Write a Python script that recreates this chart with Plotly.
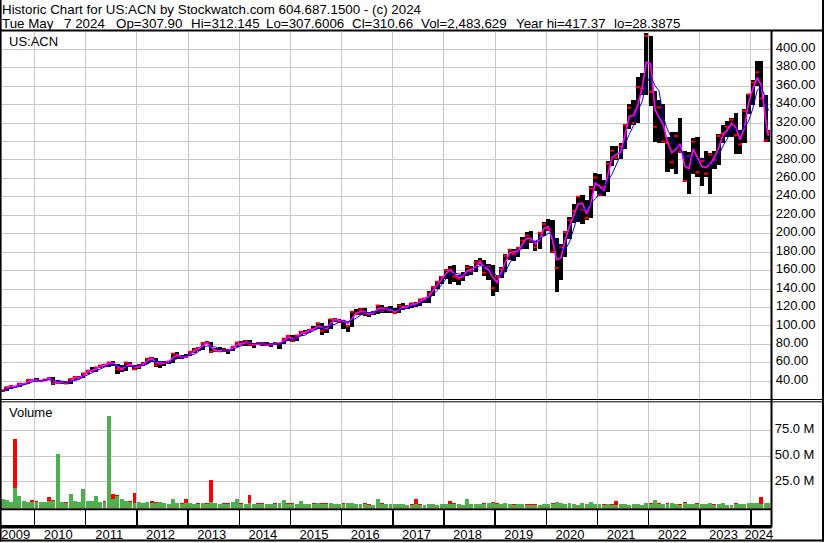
import pandas as pd
import plotly.graph_objects as go

W, H = 830, 543

# ---------------- data: monthly bars, May 2009 .. May 2024 ----------------
close = [
    29.9, 33.5, 35.0, 34.0, 37.3, 37.0, 41.5, 41.5,
    41.0, 40.0, 42.0, 43.7, 37.5, 38.6, 39.6, 37.5, 42.5, 44.7, 43.5, 48.5,
    51.5, 51.5, 55.0, 57.0, 58.0, 60.4, 59.0, 53.0, 52.7, 60.3, 57.5, 53.2,
    57.3, 59.5, 64.5, 64.9, 57.0, 60.1, 60.2, 61.5, 70.0, 67.4, 66.0, 66.5,
    72.0, 74.0, 76.0, 81.4, 82.0, 72.0, 73.8, 72.5, 73.6, 73.5, 77.5, 82.2,
    80.0, 83.5, 79.7, 80.0, 81.4, 80.8, 79.3, 80.4, 81.3, 81.1, 86.3, 89.3,
    84.0, 89.6, 93.7, 92.6, 95.8, 96.8, 103.0, 94.7, 98.3, 107.2, 107.0, 104.5,
    105.6, 100.0, 115.4, 113.0, 118.0, 113.3, 112.8, 114.9, 122.2, 116.3, 119.0, 117.1,
    113.9, 122.0, 119.9, 121.3, 124.5, 123.7, 128.8, 129.7, 135.1, 142.4, 148.0, 153.1,
    160.7, 161.0, 153.5, 151.2, 155.7, 163.6, 159.3, 169.0, 170.2, 157.6, 164.5, 141.0,
    153.5, 161.7, 176.0, 182.6, 178.0, 184.8, 192.6, 198.0, 192.3, 185.4, 201.0, 210.6,
    205.0, 180.6, 163.0, 185.0, 201.6, 214.7, 224.8, 240.0, 226.0, 217.0, 249.0, 261.0,
    242.0, 251.0, 276.0, 290.0, 282.0, 294.8, 317.7, 336.6, 320.0, 358.8, 357.4, 414.5,
    353.6, 316.0, 337.0, 300.0, 298.5, 277.6, 306.0, 289.0, 257.3, 284.0, 300.0, 266.8,
    279.0, 265.0, 285.8, 280.0, 306.0, 308.6, 316.0, 323.6, 307.0, 297.0, 333.0, 351.0,
    364.0, 375.0, 346.6, 301.0, 310.7,
]
high = [
    30.6, 34.0, 35.6, 35.2, 37.8, 38.6, 42.0, 42.5,
    43.4, 41.9, 42.9, 44.7, 44.2, 41.2, 40.5, 40.2, 42.9, 45.2, 45.3, 48.9,
    52.0, 55.2, 55.3, 58.2, 59.0, 61.2, 62.0, 59.3, 57.3, 61.4, 60.7, 58.2,
    58.3, 60.8, 65.0, 65.9, 65.3, 61.0, 61.6, 62.3, 71.0, 71.4, 68.4, 69.3,
    72.6, 75.9, 77.0, 81.6, 83.7, 83.0, 76.2, 77.1, 76.6, 74.5, 78.2, 83.0,
    84.2, 84.8, 85.0, 80.6, 82.2, 82.7, 82.3, 81.3, 83.0, 82.0, 87.2, 89.6,
    90.0, 90.6, 95.0, 95.5, 97.2, 100.4, 103.6, 103.2, 99.8, 107.8, 109.1, 108.1,
    105.7, 101.4, 115.6, 118.3, 119.9, 119.9, 115.3, 116.6, 123.0, 122.5, 120.4, 121.3,
    119.0, 123.5, 124.6, 122.4, 125.2, 126.4, 129.4, 130.3, 137.6, 143.4, 149.0, 154.1,
    162.3, 164.8, 165.6, 155.2, 158.3, 165.6, 165.4, 171.2, 173.7, 171.0, 167.2, 166.0,
    154.0, 164.3, 177.6, 183.5, 184.0, 185.8, 196.0, 201.5, 202.8, 192.0, 202.0, 212.6,
    216.4, 215.0, 195.7, 189.0, 202.7, 218.5, 232.0, 240.5, 242.3, 237.0, 252.0, 265.5,
    265.0, 258.5, 278.7, 295.4, 295.0, 298.0, 318.8, 340.6, 345.4, 370.0, 374.5, 417.4,
    414.0, 355.0, 345.0, 341.0, 305.0, 310.0, 310.5, 325.4, 290.0, 288.5, 304.0, 305.0,
    282.0, 289.5, 288.0, 290.0, 308.0, 318.0, 322.0, 325.0, 330.5, 312.0, 335.0, 352.0,
    366.5, 387.5, 387.5, 350.0, 313.0,
]
low = [
    28.4, 30.0, 31.8, 33.3, 33.8, 36.5, 36.7, 40.0,
    40.0, 39.5, 40.0, 41.4, 36.0, 37.4, 37.1, 37.0, 37.5, 41.4, 42.4, 43.4,
    47.9, 50.5, 50.5, 54.5, 55.9, 55.5, 57.0, 48.0, 50.0, 51.0, 55.0, 52.0,
    53.0, 57.0, 59.2, 61.3, 56.0, 54.6, 56.5, 58.5, 60.3, 64.6, 63.8, 65.3,
    67.0, 71.0, 73.4, 74.0, 80.0, 71.0, 71.6, 72.2, 71.8, 69.5, 73.0, 77.0,
    79.3, 78.3, 78.5, 76.3, 79.2, 78.0, 78.3, 77.0, 79.0, 75.5, 80.5, 84.0,
    82.5, 84.0, 89.0, 91.2, 92.0, 96.0, 96.6, 90.0, 92.4, 96.4, 104.2, 103.0,
    97.0, 93.3, 99.0, 112.0, 111.4, 111.0, 110.2, 112.0, 113.0, 114.2, 114.0, 114.3,
    113.5, 114.0, 117.0, 118.5, 119.5, 121.0, 122.2, 125.0, 125.0, 133.0, 140.2, 146.0,
    151.0, 145.0, 148.0, 144.2, 149.0, 154.0, 155.0, 158.0, 166.0, 154.0, 150.0, 132.6,
    137.2, 152.0, 158.0, 172.0, 170.5, 175.0, 183.0, 184.0, 190.0, 181.0, 184.0, 198.0,
    203.0, 179.0, 137.2, 150.0, 175.0, 194.0, 212.0, 213.0, 211.0, 215.0, 217.0, 246.0,
    240.5, 241.0, 245.0, 274.0, 280.0, 281.0, 292.0, 314.0, 318.0, 320.0, 350.0, 350.0,
    338.0, 300.0, 298.0, 298.0, 267.0, 270.0, 265.0, 288.0, 257.0, 243.0, 265.0, 262.0,
    252.0, 262.0, 242.8, 270.0, 275.0, 298.0, 305.0, 305.0, 286.0, 287.0, 298.0, 330.0,
    340.0, 360.0, 337.0, 300.0, 300.0,
]
# peak daily volume (millions) on up days / down days within each month
vol_up = [
    9.0, 7.5, 6.0, 19.0, 11.0, 6.5, 6.0, 5.5,
    6.0, 5.5, 6.0, 7.0, 6.5, 52.0, 5.5, 5.0, 13.0, 7.0, 6.0, 18.0,
    6.5, 7.0, 11.5, 6.0, 6.0, 89.0, 9.0, 11.0, 9.0, 7.0, 6.0, 5.0,
    5.5, 5.0, 6.0, 5.0, 4.5, 5.5, 4.5, 4.0, 9.0, 5.0, 4.0, 4.5,
    4.5, 4.0, 4.0, 5.0, 4.0, 6.0, 4.5, 3.5, 4.0, 4.0, 5.5, 8.6,
    4.0, 4.0, 5.0, 3.5, 3.5, 4.0, 3.5, 3.5, 4.0, 5.0, 8.0, 4.0,
    4.0, 3.5, 6.5, 3.5, 3.5, 4.0, 4.5, 3.5, 4.0, 4.5, 3.5, 3.5,
    4.0, 4.5, 5.0, 3.5, 3.5, 4.0, 3.0, 3.0, 8.7, 4.0, 3.5, 3.5,
    3.5, 3.5, 4.0, 3.0, 3.0, 4.0, 3.0, 3.0, 4.0, 3.5, 3.0, 3.5,
    3.5, 4.0, 4.0, 3.5, 3.0, 8.4, 3.5, 3.5, 4.0, 4.0, 4.5, 5.0,
    4.0, 3.5, 4.5, 3.5, 3.0, 4.0, 3.5, 3.0, 3.0, 3.0, 3.0, 3.5,
    3.5, 4.0, 6.0, 4.5, 3.5, 5.0, 3.5, 3.0, 4.5, 3.5, 5.5, 3.5,
    3.5, 3.0, 4.0, 3.0, 3.0, 3.5, 3.5, 3.0, 4.0, 3.5, 3.0, 4.5,
    4.0, 7.5, 4.0, 3.5, 4.0, 5.0, 3.5, 3.0, 4.5, 4.0, 3.5, 3.5,
    3.5, 3.5, 4.5, 3.0, 4.0, 4.5, 3.0, 3.0, 4.0, 3.5, 4.0, 4.5,
    4.5, 5.0, 4.0, 5.0, 4.5,
]
vol_dn = [
    7.0, 6.5, 5.5, 67.0, 6.0, 7.0, 5.0, 7.5,
    7.0, 6.0, 5.0, 10.0, 8.0, 8.0, 6.0, 6.0, 5.5, 6.0, 5.5, 6.5,
    5.5, 6.0, 7.0, 5.5, 6.5, 13.0, 13.0, 12.0, 9.0, 6.0, 7.0, 14.5,
    6.0, 5.0, 5.0, 6.5, 6.0, 5.5, 5.0, 4.0, 5.5, 5.0, 4.5, 8.6,
    4.0, 4.0, 5.0, 4.5, 4.5, 27.0, 5.0, 4.0, 4.5, 5.0, 3.5, 4.0,
    4.5, 4.0, 12.5, 4.0, 4.5, 5.0, 3.5, 3.0, 4.5, 4.0, 3.5, 4.5,
    4.5, 3.5, 4.0, 3.5, 3.5, 4.5, 4.0, 4.5, 4.5, 3.5, 3.0, 4.0,
    4.5, 5.0, 3.5, 4.0, 3.5, 4.5, 3.5, 3.0, 4.0, 4.5, 4.0, 3.5,
    4.0, 3.0, 4.0, 3.0, 3.5, 8.4, 3.5, 3.0, 3.5, 3.0, 3.0, 3.5,
    3.5, 7.0, 4.5, 4.0, 3.0, 4.0, 3.5, 3.0, 3.5, 4.5, 4.0, 6.0,
    4.5, 3.0, 3.5, 3.0, 3.5, 3.5, 3.0, 3.5, 3.5, 3.5, 3.0, 3.0,
    4.0, 5.0, 6.0, 4.0, 3.5, 4.0, 3.0, 3.0, 5.0, 3.5, 4.0, 3.5,
    4.0, 3.5, 3.5, 3.5, 6.5, 3.0, 3.0, 3.0, 4.0, 3.0, 3.0, 3.5,
    4.5, 4.0, 4.5, 4.0, 4.5, 4.0, 3.5, 3.5, 5.5, 4.0, 3.5, 5.0,
    4.0, 3.5, 5.0, 3.5, 3.5, 3.5, 3.0, 3.0, 5.0, 3.5, 3.5, 4.0,
    4.0, 4.5, 10.0, 5.0, 3.5,
]
years = list(range(2009, 2025))
price_ticks = list(range(40, 401, 20))
vol_ticks = [25, 50, 75]
title1 = "Historic Chart for US:ACN by Stockwatch.com 604.687.1500 - (c) 2024"
# second header line, field by field (the source separates them with runs of spaces)
title2_fields = ["Tue May", "7 2024", "Op=307.90", "Hi=312.145", "Lo=307.6006",
                 "Cl=310.66", "Vol=2,483,629", "Year hi=417.37", "lo=28.3875"]
symbol = "US:ACN"

n = len(close)
assert n == len(high) == len(low) == len(vol_up) == len(vol_dn) == 181, (
    n, len(high), len(low), len(vol_up), len(vol_dn))

dates = list(pd.date_range('2009-05-01', periods=n, freq='MS') + pd.Timedelta(days=14))
dates[0] = pd.Timestamp('2009-05-20')
dates[-1] = pd.Timestamp('2024-05-04')

s_close = pd.Series(close)
ma_fast = s_close.rolling(2, min_periods=1).mean()
ma_slow = s_close.rolling(4, min_periods=1).mean()

# ---------------- layout calibration ----------------
X2010, X2024 = 34.7, 753.7
T2010, T2024 = pd.Timestamp('2010-01-01'), pd.Timestamp('2024-01-01')
ppd = (X2024 - X2010) / (T2024 - T2010).days


def xdate(px):
    return T2010 + pd.Timedelta(days=(px - X2010) / ppd)


XL, XR = 1.0, 773.5
xr = [xdate(XL), xdate(XR)]
xdom = [XL / W, XR / W]


def py(y):
    return 1 - y / H


def fx(x):
    return x / W


year_starts = [pd.Timestamp(f'{y}-01-01') for y in years[1:]]
label_pos = []
for y in years:
    s = max(pd.Timestamp(f'{y}-01-01'), xr[0])
    e = min(pd.Timestamp(f'{y + 1}-01-01'), xr[1])
    label_pos.append(s + (e - s) / 2 - pd.Timedelta(days=2.0 / ppd))

GRID = '#c8c8c8'
FAM = 'Arial, Liberation Sans, sans-serif'
FONT = dict(family=FAM, size=13, color='#000000')
HFONT = dict(family=FAM, size=13.35, color='#000000')
DAY = 86400000

fig = go.Figure()

# price bars (low..high)
fig.add_trace(go.Bar(x=dates, y=[h - l for h, l in zip(high, low)], base=low,
                     width=30.5 * DAY, marker=dict(color='#000000', line=dict(width=0)),
                     xaxis='x', yaxis='y', hoverinfo='skip'))
fig.add_trace(go.Scatter(x=dates, y=close, mode='markers',
                         marker=dict(symbol='line-ew', size=3,
                                     line=dict(color='#ff0000', width=2)),
                         xaxis='x', yaxis='y', hoverinfo='skip'))
fig.add_trace(go.Scatter(x=dates, y=ma_fast, mode='lines',
                         line=dict(color='#ff00ff', width=1.7),
                         xaxis='x', yaxis='y', hoverinfo='skip'))
fig.add_trace(go.Scatter(x=dates, y=ma_slow, mode='lines',
                         line=dict(color='#0000ff', width=1.0),
                         xaxis='x', yaxis='y', hoverinfo='skip'))

# volume
fig.add_trace(go.Bar(x=dates, y=vol_dn, width=28 * DAY,
                     marker=dict(color='#ff0000', line=dict(width=0)),
                     xaxis='x2', yaxis='y2', hoverinfo='skip'))
fig.add_trace(go.Bar(x=dates, y=vol_up, width=28 * DAY,
                     marker=dict(color='#4cb04c', line=dict(width=0)),
                     xaxis='x2', yaxis='y2', hoverinfo='skip'))

# empty carrier trace so the date-label strip subplot is drawn
fig.add_trace(go.Scatter(x=[dates[0], dates[-1]], y=[None, None], mode='lines',
                         xaxis='x3', yaxis='y3', hoverinfo='skip', showlegend=False))

xcommon = dict(type='date', range=xr, domain=xdom, tickmode='array',
               tickvals=year_starts, showticklabels=False, showgrid=True,
               gridcolor=GRID, gridwidth=1, zeroline=False, showline=False,
               ticks='', fixedrange=True)

fig.update_layout(
    width=W, height=H, autosize=False,
    margin=dict(l=0, r=0, t=0, b=0, pad=0),
    paper_bgcolor='white', plot_bgcolor='white',
    showlegend=False, barmode='overlay', bargap=0,
    font=FONT,
    xaxis=dict(xcommon, anchor='y'),
    xaxis2=dict(xcommon, anchor='y2'),
    xaxis3=dict(type='date', range=xr, domain=xdom, anchor='y3',
                tickmode='array', tickvals=label_pos, ticktext=[str(y) for y in years],
                showticklabels=True, showgrid=False, zeroline=False, showline=False,
                ticks='', tickfont=FONT, fixedrange=True,
                minor=dict(tickmode='array', tickvals=year_starts, showgrid=True,
                           gridcolor='#000000', gridwidth=1.5, ticks='')),
    yaxis=dict(domain=[py(399), py(32)], range=[20.81, 418.76], anchor='x',
               side='right', tickmode='array', tickvals=price_ticks,
               ticktext=[f'{v:.2f}' for v in price_ticks], showgrid=True,
               gridcolor=GRID, gridwidth=1, zeroline=False, showline=False,
               ticks='', tickfont=FONT, fixedrange=True, ticklabelstandoff=4,
               ticklabelshift=-2),
    yaxis2=dict(domain=[py(507.8), py(402.3)], range=[0, 102.2], anchor='x2',
                side='right', tickmode='array', tickvals=vol_ticks,
                ticktext=[f'{v:.1f} M' for v in vol_ticks], showgrid=True,
                gridcolor=GRID, gridwidth=1, zeroline=False, showline=False,
                ticks='', tickfont=FONT, fixedrange=True, ticklabelstandoff=3,
                ticklabelshift=-2),
    yaxis3=dict(domain=[py(525.0), py(510)], range=[0, 1], anchor='x3',
                showgrid=False, showticklabels=False, zeroline=False,
                showline=False, ticks='', fixedrange=True),
)


def hline(y, x0, x1, w):
    fig.add_shape(type='line', xref='paper', yref='paper', x0=fx(x0), x1=fx(x1),
                  y0=py(y), y1=py(y), line=dict(color='#000000', width=w))


def vline(x, y0, y1, w):
    fig.add_shape(type='line', xref='paper', yref='paper', x0=fx(x), x1=fx(x),
                  y0=py(y0), y1=py(y1), line=dict(color='#000000', width=w))


hline(30.5, 0, 827, 2.2)
hline(399.5, 0, 827, 1)
hline(401.8, 0, 827, 1)
hline(509.2, 0, 774.5, 2)
hline(526.8, 0, 774.5, 3.4)
hline(540.5, 0, 827, 2.2)
vline(774.3, 30.5, 527.3, 2)
vline(0.8, 0, 541.5, 1.6)
vline(826.0, 0, 541.5, 2)

fig.add_annotation(xref='paper', yref='paper', x=fx(1.5), y=py(9.4), xanchor='left',
                   yanchor='middle', text=title1, showarrow=False,
                   font=HFONT, borderpad=0)
title2_x = [1.5, 63.5, 115.5, 190.5, 265.5, 352.0, 422.0, 516.5, 615.0]
for txt, x in zip(title2_fields, title2_x):
    fig.add_annotation(xref='paper', yref='paper', x=fx(x), y=py(23.8), xanchor='left',
                       yanchor='middle', text=txt, showarrow=False,
                       font=HFONT, borderpad=0)
fig.add_annotation(xref='paper', yref='paper', x=fx(8), y=py(41.5), xanchor='left',
                   yanchor='middle', text=symbol, showarrow=False, font=FONT, borderpad=0)
fig.add_annotation(xref='paper', yref='paper', x=fx(8), y=py(413), xanchor='left',
                   yanchor='middle', text='Volume', showarrow=False, font=FONT, borderpad=0)

fig.write_html("out.html", config={'displayModeBar': False, 'staticPlot': True},
               post_script="document.body.style.margin='0';"
               "document.body.style.overflow='hidden';")
